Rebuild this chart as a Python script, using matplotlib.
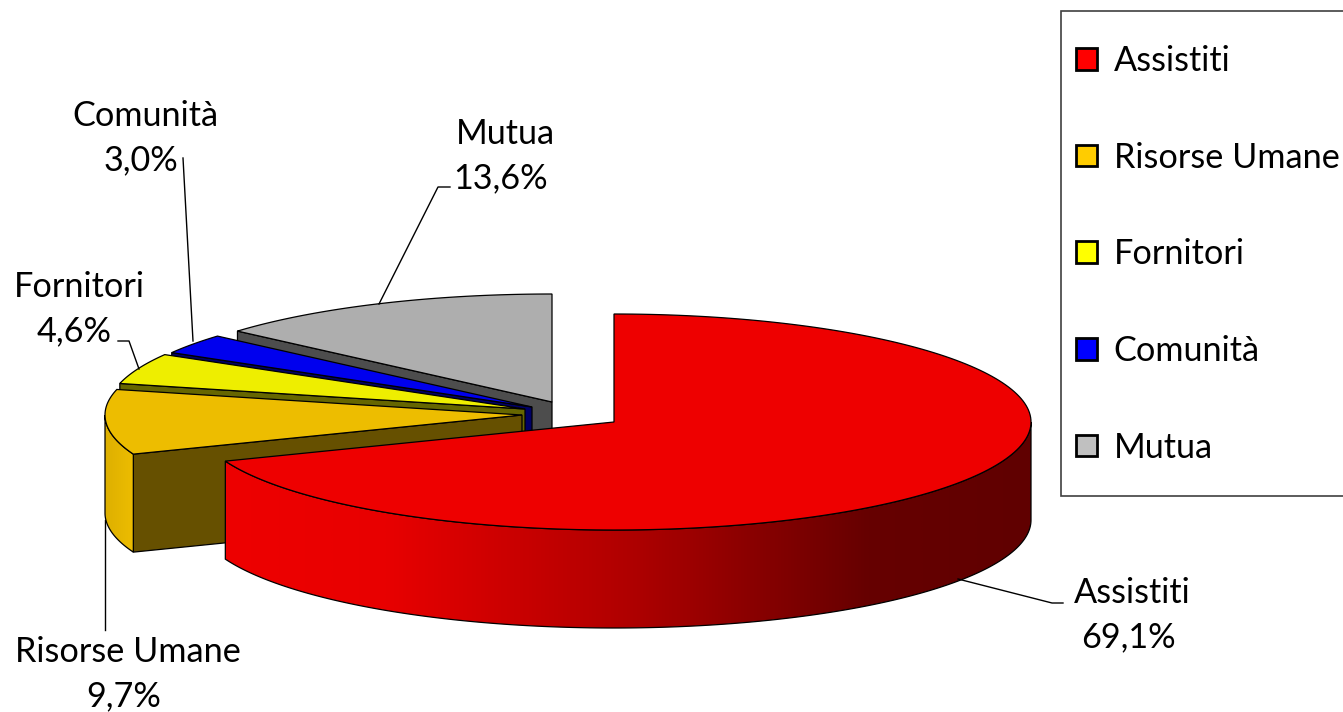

# Torta 3D esplosa con legenda a destra
import numpy as np
import matplotlib
matplotlib.use('Agg')
import matplotlib.pyplot as plt
from matplotlib.patches import Polygon, Patch, Rectangle
from matplotlib.colors import LinearSegmentedColormap

plt.rcParams['font.family'] = ['Lato', 'DejaVu Sans']

# Data
categories = ['Assistiti', 'Risorse Umane', 'Fornitori', 'Comunità', 'Mutua']
values = [69.1, 9.7, 4.6, 3.0, 13.6]
legend_colors = ['#FF0000', '#FFCC00', '#FFFF00', '#0000FF', '#C0C0C0']
top_colors = ['#EE0000', '#EDBD00', '#EEEE00', '#0000EE', '#AEAEAE']
face_colors = ['#660000', '#665000', '#666600', '#000066', '#4D4D4D']

# centro di ogni fetta (pixel), la torta e' esplosa
centers = [(614, 422), (522, 415), (525, 409), (532, 407), (552, 402)]
rx, ry, depth = 417, 108, 98

# posizione etichette: nome, valore, e linea guida
name_pos = [(1132, 593), (128, 652), (79, 287), (145, 116), (505, 134)]
value_pos = [(1128, 637), (124, 696), (74, 331), (141, 160), (501, 178)]
leaders = [[(958, 579), (1052, 603), (1063, 603)],
           [(105, 520), (105, 630)],
           [(139, 369), (129, 341), (118, 341)],
           [(193, 341), (183, 158)],
           [(379, 304), (438, 187), (450, 187)]]

fig = plt.figure(figsize=(13.43, 7.12), dpi=100)
ax = fig.add_axes([0, 0, 1, 1])
ax.set_xlim(0, 1343)
ax.set_ylim(712, 0)
ax.axis('off')


def rim(center, clock):
    a = np.radians(clock)
    return center[0] + rx * np.sin(a), center[1] - ry * np.cos(a)


def wall(center, a0, a1, cmap, x_range, z):
    # parete esterna con sfumatura orizzontale
    ang = np.linspace(a0, a1, 200)
    xs, ys = rim(center, ang)
    pts = np.column_stack([np.r_[xs, xs[::-1]], np.r_[ys, ys[::-1] + depth]])
    poly = Polygon(pts, closed=True, fc='none', ec='black', lw=0.9, zorder=z + 0.2)
    ax.add_patch(poly)
    grad = np.linspace(0, 1, 512).reshape(1, -1)
    im = ax.imshow(grad, cmap=cmap, aspect='auto', zorder=z + 0.1,
                   extent=[x_range[0], x_range[1], pts[:, 1].max(), pts[:, 1].min()])
    im.set_clip_path(poly)


red_wall = LinearSegmentedColormap.from_list('red_wall', [(0, '#EE0000'), (0.2, '#E80000'), (0.5, '#B00000'),
                                                          (0.8, '#660000'), (1, '#600000')])
gold_wall = LinearSegmentedColormap.from_list('gold_wall', ['#DDAF00', '#EDBD00'])

# angoli orari da ore 12
ends = np.cumsum(values) / 100 * 360
starts = np.r_[0, ends[:-1]]

# ordine di disegno: dal fondo verso il davanti
for z, i in enumerate([4, 3, 2, 1, 0]):
    c = centers[i]
    z = z * 2 + 2
    a0, a1 = starts[i], ends[i]
    # faccia radiale
    x0, y0 = rim(c, a0)
    if a0 > 180:
        ax.add_patch(Polygon([c, (x0, y0), (x0, y0 + depth), (c[0], c[1] + depth)],
                             closed=True, fc=face_colors[i], ec='black', lw=0.9, zorder=z))
    # parete esterna visibile
    if i == 0:
        wall(c, 90, a1, red_wall, (223, 1031), z)
    if i == 1:
        wall(c, a0, 270, gold_wall, (104, 134), z)
    # faccia superiore
    ang = np.linspace(a0, a1, 200)
    xs, ys = rim(c, ang)
    pts = np.vstack([[c], np.column_stack([xs, ys])])
    ax.add_patch(Polygon(pts, closed=True, fc=top_colors[i], ec='black', lw=0.9, zorder=z + 0.5))

# etichette
for i, name in enumerate(categories):
    ax.text(name_pos[i][0], name_pos[i][1], name, ha='center', va='center', fontsize=24.7, color='black', zorder=30)
    ax.text(value_pos[i][0], value_pos[i][1], f'{values[i]:.1f}%'.replace('.', ','), ha='center', va='center',
            fontsize=24.7, color='black', zorder=30)
    lx, ly = zip(*leaders[i])
    ax.plot(lx, ly, color='black', lw=1.0, zorder=1 if i == 1 else 20)

# legenda: riquadro a parte, voci senza cornice
ax.add_patch(Rectangle((1060.5, 10.5), 300, 485, fc='white', ec='#404040', lw=1.2, zorder=35))
handles = [Patch(fc=col, ec='black', lw=2) for col in legend_colors]
leg = ax.legend(handles, categories, loc='upper left', bbox_to_anchor=(1076 / 1343, 1 - 45 / 712),
                fontsize=24.7, frameon=False, borderaxespad=0, borderpad=0, labelspacing=1.885,
                handlelength=0.6, handleheight=0.6, handletextpad=0.5)
leg.set_zorder(40)

fig.savefig('out.png', dpi=100)
